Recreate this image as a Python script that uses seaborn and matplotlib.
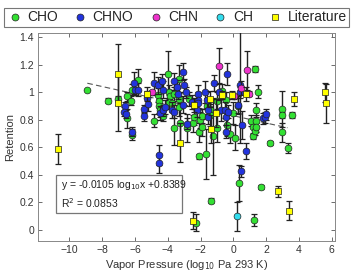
import matplotlib
matplotlib.use("Agg")
import matplotlib.pyplot as plt
import matplotlib.ticker as mticker
from matplotlib.lines import Line2D
from matplotlib.patches import Rectangle
import seaborn as sns
import pandas as pd
import numpy as np

# (vapor pressure, retention, error) per compound class
cho_x = [-8.93, -7.67, -7.0, -6.49, -6.23, -6.49, -6.19, -6.19, -5.79, -4.83,
         -4.6, -4.55, -4.55, -4.45, -4.3, -4.0, -3.9, -3.85, -3.9, -3.75,
         -3.62, -3.6, -3.3, -3.3, -3.31, -3.25, -2.85, -2.7, -2.44, -2.38,
         -2.3, -2.1, -2.1, -2.04, -1.93, -1.93, -1.69, -1.63, -1.45, -1.43,
         -1.39, -1.23, -1.02, -1.01, -0.7, -0.47, -0.4, -0.21, -0.01, 0.13,
         0.3, 0.32, 1.1, 1.2, 1.2, 1.26, 1.31, 1.35, 1.41, 1.41,
         1.4, 1.51, 1.71, 2.22, 2.97, 2.97, 2.97, 3.33, 3.55]
cho_y = [1.02, 0.94, 0.95, 0.97, 0.94, 0.81, 1.02, 0.69, 1.09, 0.795,
         0.98, 0.94, 0.90, 0.87, 0.83, 1.13, 1.0, 0.97, 0.93, 0.92,
         0.74, 0.99, 1.095, 0.95, 0.89, 0.775, 0.74, 0.95, 0.775, 0.82,
         0.053, 0.71, 0.535, 0.80, 0.745, 0.83, 0.552, 0.90, 0.88, 0.835,
         0.213, 0.68, 0.74, 0.94, 1.01, 0.945, 0.76, 0.70, 0.85, 0.67,
         0.90, 0.34, 0.795, 0.745, 0.68, 0.073, 1.17, 0.72, 0.87, 0.795,
         0.745, 1.005, 0.315, 0.63, 0.877, 0.836, 0.71, 0.594, 0.836]
cho_err = [0.0, 0.015, 0.02, 0.03, 0.03, 0.07, 0.04, 0.04, 0.08, 0.05,
           0.05, 0.05, 0.05, 0.05, 0.04, 0.17, 0.05, 0.05, 0.05, 0.06,
           0.12, 0.05, 0.1, 0.05, 0.06, 0.15, 0.1, 0.05, 0.06, 0.06,
           0.06, 0.07, 0.02, 0.06, 0.06, 0.05, 0.18, 0.06, 0.06, 0.08,
           0.02, 0.28, 0.1, 0.06, 0.05, 0.06, 0.08, 0.07, 0.08, 0.09,
           0.06, 0.13, 0.04, 0.04, 0.02, 0.045, 0.02, 0.03, 0.05, 0.04,
           0.03, 0.05, 0.015, 0.015, 0.13, 0.02, 0.07, 0.035, 0.02]

chno_x = [-6.6, -6.65, -6.55, -6.19, -6.03, -6.0, -5.8, -5.44, -5.42, -5.28,
          -5.18, -4.81, -4.6, -4.5, -4.5, -4.47, -4.37, -4.27, -4.27, -4.16,
          -3.76, -3.6, -3.64, -3.45, -3.4, -3.05, -3.05, -2.99, -2.9, -2.85,
          -2.54, -2.14, -2.14, -2.14, -2.2, -1.73, -1.63, -1.53, -1.53, -1.17,
          -0.88, -0.72, -0.5, -0.47, -0.42, -0.41, -0.3, 0.4, 0.4, 0.3,
          0.44, 0.56, 0.8, 1.81, 1.91, 2.0]
chno_y = [0.90, 0.86, 0.84, 0.715, 1.07, 1.02, 1.02, 0.88, 0.825, 0.96,
          0.915, 1.066, 1.05, 0.545, 0.485, 0.85, 1.08, 1.02, 0.87, 0.895,
          0.87, 0.86, 1.08, 1.04, 0.99, 1.15, 0.91, 1.05, 1.0, 0.77,
          0.93, 0.99, 0.945, 0.92, 0.87, 1.005, 0.945, 0.87, 0.82, 1.066,
          1.005, 0.87, 0.87, 0.82, 0.715, 1.13, 0.86, 1.05, 1.005, 0.91,
          0.425, 0.763, 0.575, 0.81, 0.82, 0.84]
chno_err = [0.03, 0.03, 0.03, 0.03, 0.08, 0.04, 0.05, 0.03, 0.03, 0.05,
            0.05, 0.08, 0.06, 0.07, 0.07, 0.05, 0.05, 0.06, 0.04, 0.05,
            0.06, 0.05, 0.06, 0.05, 0.04, 0.06, 0.06, 0.05, 0.04, 0.04,
            0.05, 0.06, 0.06, 0.05, 0.05, 0.08, 0.06, 0.05, 0.05, 0.06,
            0.06, 0.08, 0.06, 0.06, 0.05, 0.08, 0.05, 0.42, 0.05, 0.06,
            0.04, 0.1, 0.06, 0.04, 0.04, 0.04]

chn_x = [-4.97, -0.86, 0.05, 0.44, 0.84, 0.94]
chn_y = [1.0, 1.19, 0.97, 1.03, 1.16, 0.99]
chn_err = [0.02, 0.13, 0.02, 0.05, 0.14, 0.02]

ch_x = [0.23]
ch_y = [0.10]
ch_err = [0.105]

lit_x = [-10.7, -7.0, -7.0, -5.28, -3.25, -2.38, -2.44, -1.45, -1.39, -1.06,
         -0.66, -0.11, 0.8, 2.72, 3.37, 3.7, 5.6, 5.68]
lit_y = [0.59, 1.13, 0.92, 0.99, 0.635, 0.91, 0.068, 0.95, 0.734, 0.848,
         0.98, 0.98, 0.99, 0.283, 0.14, 0.95, 1.0, 0.92]
lit_err = [0.11, 0.22, 0.2, 0.05, 0.14, 0.05, 0.06, 0.06, 0.1, 0.1,
           0.03, 0.03, 0.05, 0.04, 0.07, 0.05, 0.07, 0.14]

groups = ["CHO", "CHNO", "CHN", "CH", "Literature"]
colors = {"CHO": "#33e033", "CHNO": "#2233dd", "CHN": "#ee33cc",
          "CH": "#33ddee", "Literature": "#ffff00"}
markers = {"CHO": "o", "CHNO": "o", "CHN": "o", "CH": "o", "Literature": "s"}

# drawn trend line (slope/intercept as shown on the plot) and fit text
trend_x = [-8.9, 3.3]
trend_slope = -0.0265
trend_icpt = 0.83
fit_line1 = "y = -0.0105 log$_{10}$x +0.8389"
fit_line2 = "R$^2$ = 0.0853"

frames = []
for g, xs, ys, es in [("CHO", cho_x, cho_y, cho_err), ("CHNO", chno_x, chno_y, chno_err),
                      ("CHN", chn_x, chn_y, chn_err), ("CH", ch_x, ch_y, ch_err),
                      ("Literature", lit_x, lit_y, lit_err)]:
    frames.append(pd.DataFrame({"vp": xs, "ret": ys, "err": es, "group": g}))
df = pd.concat(frames, ignore_index=True)

sns.set_style("ticks")
plt.rcParams['font.family'] = ['Liberation Sans', 'DejaVu Sans']

fig = plt.figure(figsize=(3.53, 2.78), dpi=100)
ax = fig.add_axes([0.108, 0.133, 0.841, 0.748])

tx = np.array(trend_x)
ax.plot(tx, trend_slope * tx + trend_icpt, ls=(0, (5, 3)), color="#555555", lw=0.8, zorder=1)

for i, g in enumerate(groups):
    sub = df[df["group"] == g]
    ax.errorbar(sub["vp"], sub["ret"], yerr=sub["err"], fmt="none", ecolor="#222222",
                elinewidth=1.0, capsize=2.2, capthick=0.9, zorder=2 + 2 * i)
    sns.scatterplot(data=sub, x="vp", y="ret", color=colors[g], marker=markers[g],
                    s=24, edgecolor="#222222", linewidth=0.5, ax=ax, zorder=3 + 2 * i,
                    legend=False)

ax.set_xlim(-11.9, 6.2)
ax.set_ylim(-0.08, 1.43)
ax.set_xticks(range(-10, 7, 2))
ax.set_yticks(np.arange(0, 1.41, 0.2))
ax.yaxis.set_major_formatter(mticker.FuncFormatter(lambda v, p: f"{v:g}"))
ax.tick_params(direction="in", length=3, width=0.6, labelsize=7.5, colors="#555555",
               labelcolor="#333333", top=True, right=True, pad=3)
for s in ax.spines.values():
    s.set_color("#888888")
    s.set_linewidth(0.7)
ax.set_xlabel("Vapor Pressure (log$_{10}$ Pa 293 K)", fontsize=8, color="#333333", labelpad=2)
ax.set_ylabel("Retention", fontsize=8, color="#333333", labelpad=3)

# annotation box with the fit
ax.add_patch(Rectangle((-10.79, 0.124), 7.66, 0.276, fc="white", ec="#777777", lw=0.9, zorder=20))
ax.text(-10.49, 0.327, fit_line1, fontsize=7.5, color="#222222", va="center", ha="left", zorder=21)
ax.text(-10.49, 0.198, fit_line2, fontsize=7.5, color="#222222", va="center", ha="left", zorder=21)

handles = [Line2D([], [], ls="none", marker=markers[g], markerfacecolor=colors[g],
                  markeredgecolor="#222222", markeredgewidth=0.5, markersize=5)
           for g in groups]
leg = fig.legend(handles, groups, loc="upper center", bbox_to_anchor=(0.5, 0.995), ncol=5,
                 fontsize=10, frameon=True, fancybox=False, handletextpad=0.3,
                 columnspacing=1.0, borderpad=0.15, handlelength=1.2)
leg.get_frame().set_edgecolor("#555555")
leg.get_frame().set_linewidth(0.8)

fig.savefig("out.png", dpi=100)
